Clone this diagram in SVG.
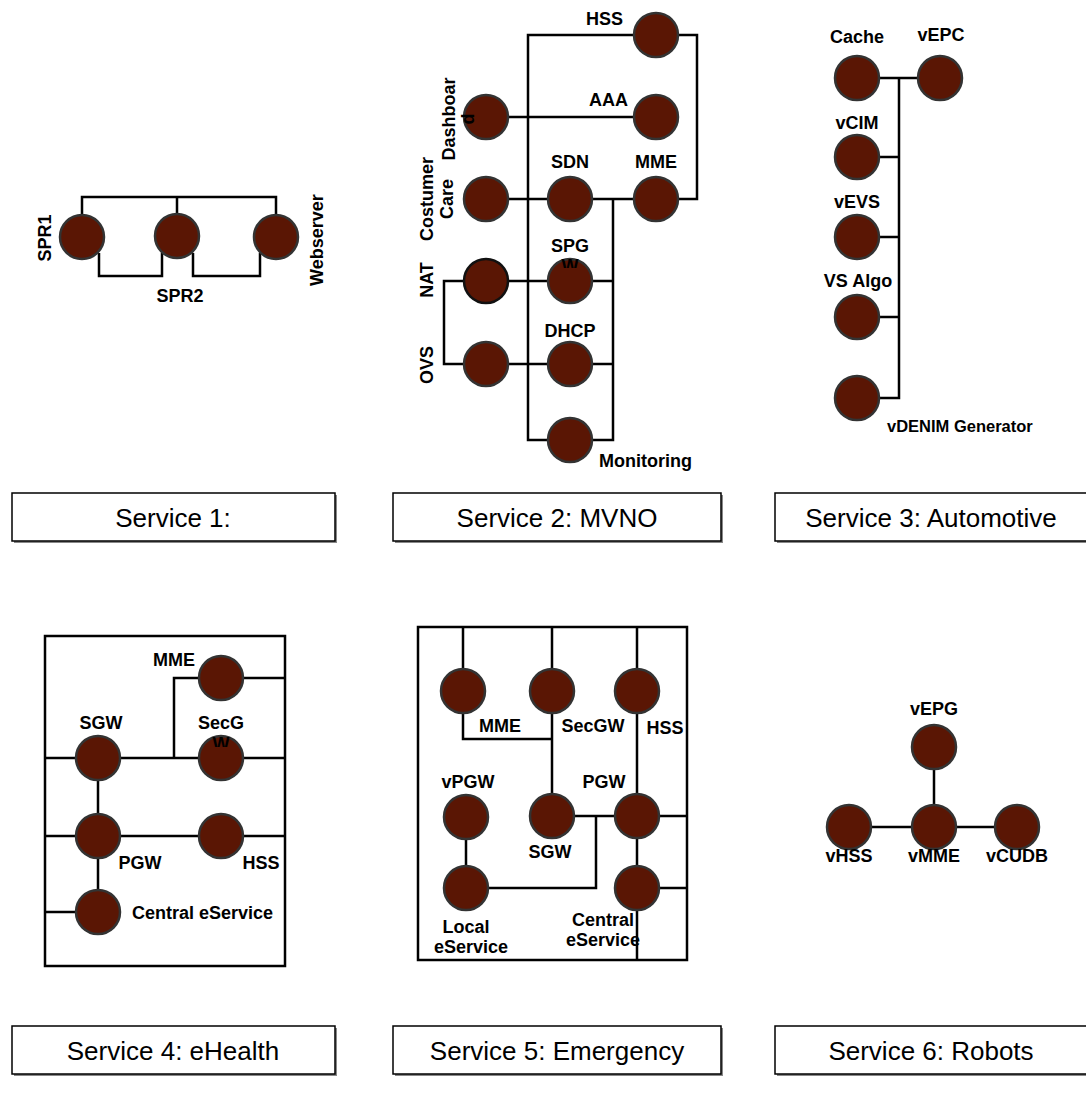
<svg xmlns="http://www.w3.org/2000/svg" width="1086" height="1097" viewBox="0 0 1086 1097">
<defs>
<style>
.n{fill:#5a1604;stroke:#333;stroke-width:2.5}
.nb{fill:#5a1604;stroke:#111;stroke-width:2.5}
.w{stroke:#000;stroke-width:2.5;fill:none}
.l{font-family:"Liberation Sans",Arial,sans-serif;font-weight:bold;font-size:18px;fill:#000}
.c{text-anchor:middle}
.t{font-family:"Liberation Sans",Arial,sans-serif;font-size:26px;fill:#000;text-anchor:middle}
.bx{fill:#fff;stroke:#000;stroke-width:1.5}
.sh{fill:#888}
</style>
<clipPath id="cw1"><rect x="540" y="256" width="60" height="12"/></clipPath>
<clipPath id="cw2"><rect x="190" y="734" width="60" height="13"/></clipPath>
</defs>
<rect width="1086" height="1097" fill="#fff"/>

<g id="connectors">
<path class="w" d="M82,237 V197 H276 V237 M177,197 V237"/>
<path class="w" d="M99,253 V276 H162 V253"/>
<path class="w" d="M193,253 V276 H260 V253"/>
<path class="w" d="M656,35 H528 V440 H613 V199"/>
<path class="w" d="M656,35 H697 V199 H656"/>
<path class="w" d="M486,117 H656"/>
<path class="w" d="M486,199 H570 M570,199 H656"/>
<path class="w" d="M486,281 H613"/>
<path class="w" d="M486,364 H613"/>
<path class="w" d="M486,281 H444 V364 H486"/>
<path class="w" d="M857,78 H940 M899,78 V398 H857 M857,157 H899 M857,237 H899 M857,317 H899"/>
<path class="w" d="M45,758 H285 M45,836 H285 M45,912 H98 M98,758 V912"/>
<path class="w" d="M221,678 H285 M221,678 H174 V758"/>
<path class="w" d="M463,627 V691 M552,627 V816 M637,627 V960"/>
<path class="w" d="M463,691 V739 H552"/>
<path class="w" d="M552,816 H687 M466,817 V888 H596 V816 M637,888 H687"/>
<path class="w" d="M934,747 V827 M849,827 H1017"/>
</g>

<g id="frames">
<rect class="w" x="45" y="636" width="240" height="330"/>
<rect class="w" x="418" y="627" width="269" height="333"/>
</g>

<g id="spr1"><circle class="n" cx="82" cy="237" r="22"/><text class="l c" x="51" y="238" transform="rotate(-90 51 238)">SPR1</text></g>
<g id="spr2"><circle class="n" cx="177" cy="236" r="22"/><text class="l c" x="180" y="302">SPR2</text></g>
<g id="webserver"><circle class="n" cx="276" cy="237" r="22"/><text class="l c" x="323" y="240" transform="rotate(-90 323 240)">Webserver</text></g>

<g id="hss2"><circle class="n" cx="656" cy="35" r="22"/><text class="l" x="623" y="25" text-anchor="end">HSS</text></g>
<g id="aaa"><circle class="n" cx="656" cy="117" r="22"/><text class="l" x="628" y="106" text-anchor="end">AAA</text></g>
<g id="dashboard"><circle class="n" cx="486" cy="117" r="22"/><text class="l c" x="455" y="119" transform="rotate(-90 455 119)"><tspan x="455">Dashboar</tspan><tspan x="455" dy="19">d</tspan></text></g>
<g id="costumercare"><circle class="n" cx="486" cy="199" r="22"/><text class="l c" x="433" y="199" transform="rotate(-90 433 199)"><tspan x="433">Costumer</tspan><tspan x="433" dy="20">Care</tspan></text></g>
<g id="sdn"><circle class="n" cx="570" cy="199" r="22"/><text class="l c" x="570" y="168">SDN</text></g>
<g id="mme2"><circle class="n" cx="656" cy="199" r="22"/><text class="l c" x="656" y="168">MME</text></g>
<g id="nat"><circle class="nb" cx="486" cy="281" r="22"/><text class="l c" x="433" y="280" transform="rotate(-90 433 280)">NAT</text></g>
<g id="spgw"><circle class="n" cx="570" cy="281" r="22"/><text class="l c" x="570" y="252">SPG</text><text class="l c" x="570" y="272" clip-path="url(#cw1)">W</text></g>
<g id="ovs"><circle class="n" cx="486" cy="364" r="22"/><text class="l c" x="433" y="365" transform="rotate(-90 433 365)">OVS</text></g>
<g id="dhcp"><circle class="n" cx="570" cy="364" r="22"/><text class="l c" x="570" y="337">DHCP</text></g>
<g id="monitoring"><circle class="n" cx="570" cy="440" r="22"/><text class="l" x="599" y="467">Monitoring</text></g>

<g id="cache"><circle class="n" cx="857" cy="78" r="22"/><text class="l c" x="857" y="43">Cache</text></g>
<g id="vepc"><circle class="n" cx="940" cy="78" r="22"/><text class="l c" x="941" y="41">vEPC</text></g>
<g id="vcim"><circle class="n" cx="857" cy="157" r="22"/><text class="l c" x="857" y="129">vCIM</text></g>
<g id="vevs"><circle class="n" cx="857" cy="237" r="22"/><text class="l c" x="857" y="208">vEVS</text></g>
<g id="vsalgo"><circle class="n" cx="857" cy="317" r="22"/><text class="l c" x="858" y="287">VS Algo</text></g>
<g id="vdenim"><circle class="n" cx="857" cy="398" r="22"/><text class="l" x="887" y="432" style="font-size:16.5px">vDENIM Generator</text></g>

<g id="mme4"><circle class="n" cx="221" cy="678" r="22"/><text class="l c" x="174" y="666">MME</text></g>
<g id="sgw4"><circle class="n" cx="98" cy="758" r="22"/><text class="l c" x="101" y="729">SGW</text></g>
<g id="secgw4"><circle class="n" cx="221" cy="758" r="22"/><text class="l c" x="221" y="729">SecG</text><text class="l c" x="221" y="750" clip-path="url(#cw2)">W</text></g>
<g id="pgw4"><circle class="n" cx="98" cy="836" r="22"/><text class="l c" x="140" y="869">PGW</text></g>
<g id="hss4"><circle class="n" cx="221" cy="836" r="22"/><text class="l c" x="261" y="869">HSS</text></g>
<g id="central4"><circle class="n" cx="98" cy="912" r="22"/><text class="l" x="132" y="919">Central eService</text></g>

<g id="mme5"><circle class="n" cx="463" cy="691" r="22"/><text class="l c" x="500" y="732">MME</text></g>
<g id="secgw5"><circle class="n" cx="552" cy="691" r="22"/><text class="l c" x="593" y="732">SecGW</text></g>
<g id="hss5"><circle class="n" cx="637" cy="691" r="22"/><text class="l c" x="665" y="734">HSS</text></g>
<g id="vpgw"><circle class="n" cx="466" cy="817" r="22"/><text class="l c" x="468" y="788">vPGW</text></g>
<g id="sgw5"><circle class="n" cx="552" cy="816" r="22"/><text class="l c" x="550" y="858">SGW</text></g>
<g id="pgw5"><circle class="n" cx="637" cy="816" r="22"/><text class="l c" x="604" y="788">PGW</text></g>
<g id="local5"><circle class="n" cx="466" cy="888" r="22"/><text class="l c" x="471" y="933"><tspan x="466">Local</tspan><tspan x="471" dy="20">eService</tspan></text></g>
<g id="central5"><circle class="n" cx="637" cy="888" r="22"/><text class="l c" x="603" y="926"><tspan x="603">Central</tspan><tspan x="603" dy="20">eService</tspan></text></g>

<g id="vepg"><circle class="n" cx="934" cy="747" r="22"/><text class="l c" x="934" y="715">vEPG</text></g>
<g id="vhss"><circle class="n" cx="849" cy="827" r="22"/><text class="l c" x="849" y="862">vHSS</text></g>
<g id="vmme"><circle class="n" cx="934" cy="827" r="22"/><text class="l c" x="934" y="862">vMME</text></g>
<g id="vcudb"><circle class="n" cx="1017" cy="827" r="22"/><text class="l c" x="1017" y="862">vCUDB</text></g>

<g id="title1"><rect class="sh" x="14" y="495" width="323" height="48"/><rect class="bx" x="12" y="493" width="323" height="48"/><text class="t" x="173" y="527">Service 1:</text></g>
<g id="title2"><rect class="sh" x="395" y="495" width="328" height="48"/><rect class="bx" x="393" y="493" width="328" height="48"/><text class="t" x="557" y="527">Service 2: MVNO</text></g>
<g id="title3"><rect class="sh" x="777" y="495" width="320" height="48"/><rect class="bx" x="775" y="493" width="320" height="48"/><text class="t" x="931" y="527">Service 3: Automotive</text></g>
<g id="title4"><rect class="sh" x="14" y="1028" width="323" height="48"/><rect class="bx" x="12" y="1026" width="323" height="48"/><text class="t" x="173" y="1060">Service 4: eHealth</text></g>
<g id="title5"><rect class="sh" x="395" y="1028" width="328" height="48"/><rect class="bx" x="393" y="1026" width="328" height="48"/><text class="t" x="557" y="1060">Service 5: Emergency</text></g>
<g id="title6"><rect class="sh" x="777" y="1028" width="320" height="48"/><rect class="bx" x="775" y="1026" width="320" height="48"/><text class="t" x="931" y="1060">Service 6: Robots</text></g>
</svg>
